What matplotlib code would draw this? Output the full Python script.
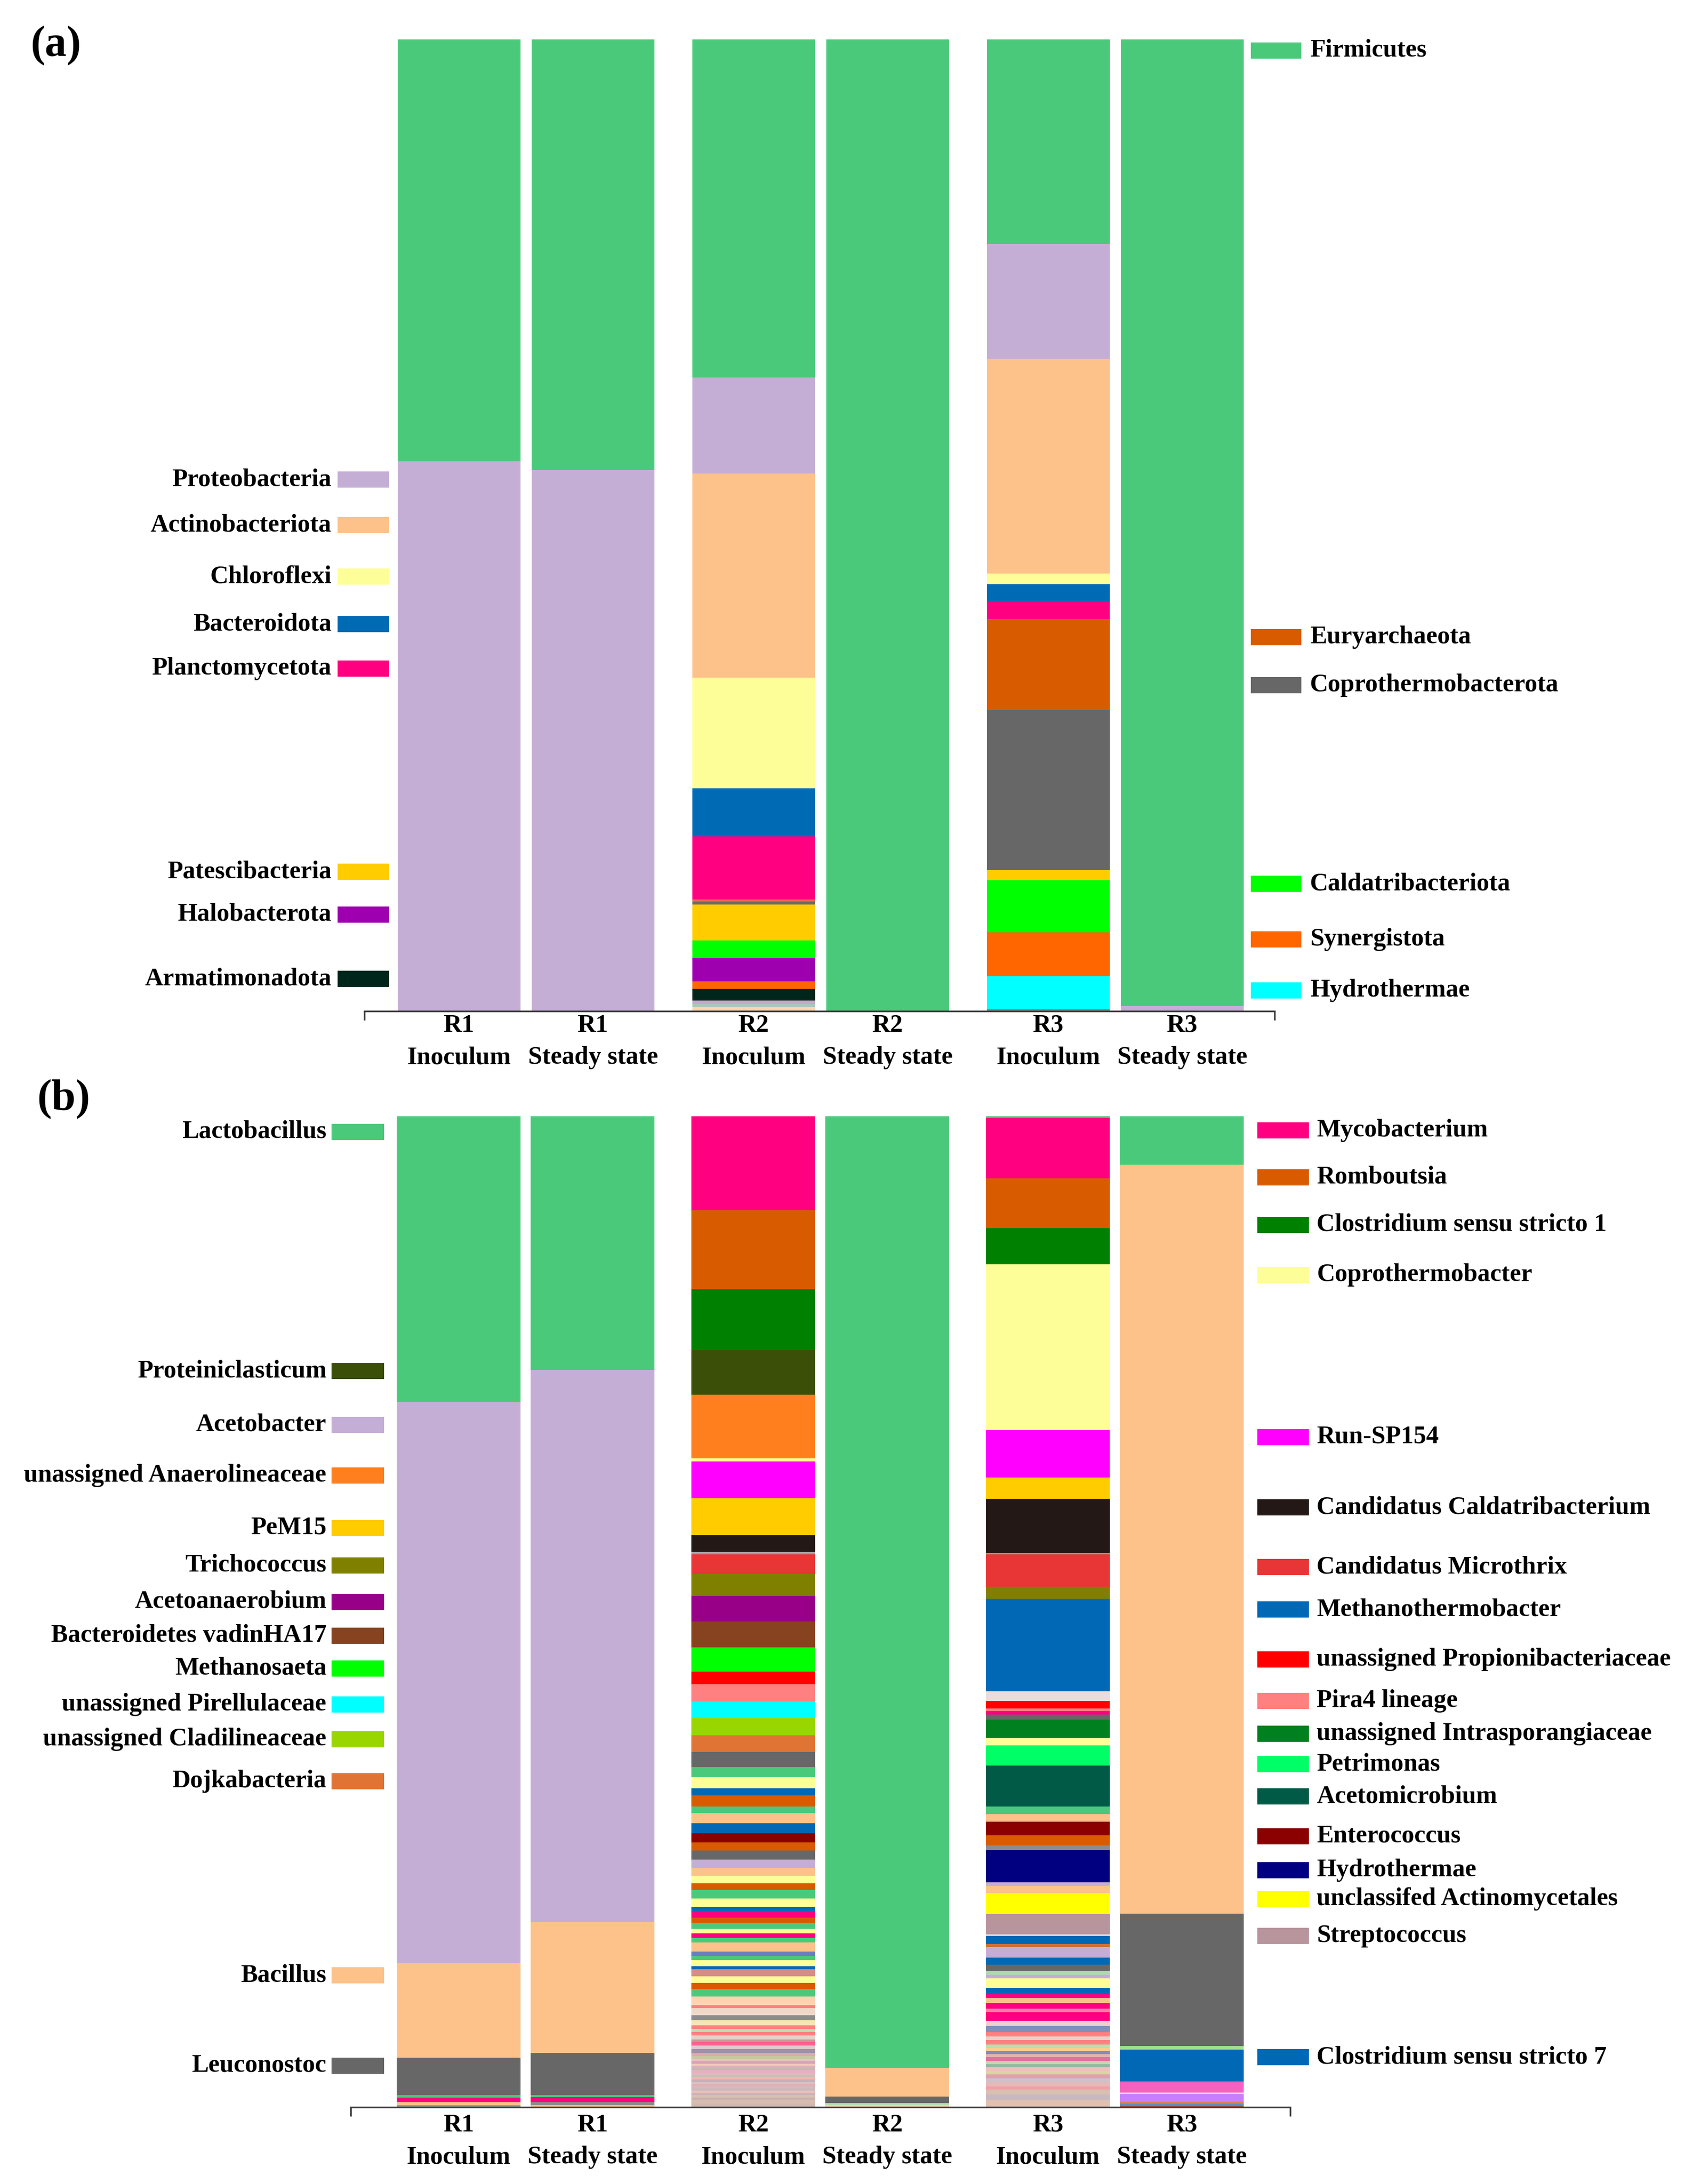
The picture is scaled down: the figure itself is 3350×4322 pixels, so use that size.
import numpy as np
import matplotlib.pyplot as plt
from matplotlib.patches import Rectangle

plt.rcParams['font.family'] = ['Liberation Serif', 'DejaVu Serif']
plt.rcParams['font.weight'] = 'bold'

W, H = 3350, 4322

# ----------------------------
# sample labels
# ----------------------------
samples = ["R1\nInoculum", "R1\nSteady state", "R2\nInoculum",
           "R2\nSteady state", "R3\nInoculum", "R3\nSteady state"]

# ----------------------------
# (a) phylum level, % relative abundance, top -> bottom of each bar
# keys are phyla (coloured from the legend) or plain colours for minor taxa
# ----------------------------
a_r1_inoc = [("Firmicutes", 43.4), ("Proteobacteria", 56.6)]
a_r1_ss = [("Firmicutes", 44.3), ("Proteobacteria", 55.7)]
a_r2_inoc = [("Firmicutes", 34.8), ("Proteobacteria", 9.9), ("Actinobacteriota", 21.0),
             ("Chloroflexi", 11.4), ("Bacteroidota", 4.9), ("Planctomycetota", 6.5),
             ("#E07050", 0.25), ("Coprothermobacterota", 0.3), ("Patescibacteria", 3.7),
             ("Caldatribacteriota", 1.8), ("Halobacterota", 2.4), ("Synergistota", 0.76),
             ("Armatimonadota", 1.2), ("#C8A8C8", 0.35), ("#A8C8B8", 0.35),
             ("#FCD6B0", 0.4)]
a_r2_ss = [("Firmicutes", 100.0)]
a_r3_inoc = [("Firmicutes", 21.1), ("Proteobacteria", 11.8), ("Actinobacteriota", 22.1),
             ("Chloroflexi", 1.1), ("Bacteroidota", 1.8), ("Planctomycetota", 1.8),
             ("Euryarchaeota", 9.4), ("Coprothermobacterota", 16.5),
             ("Patescibacteria", 1.0), ("Caldatribacteriota", 5.4),
             ("Synergistota", 4.5), ("Hydrothermae", 3.4), ("#8C8C8C", 0.2)]
a_r3_ss = [("Firmicutes", 99.5), ("Proteobacteria", 0.5)]

phylum_colors = {
    "Firmicutes": "#4BC97B", "Proteobacteria": "#C5AED5",
    "Actinobacteriota": "#FCC28A", "Chloroflexi": "#FEFE98",
    "Bacteroidota": "#006BB5", "Planctomycetota": "#FF0080",
    "Patescibacteria": "#FFCC00", "Halobacterota": "#9E00B0",
    "Armatimonadota": "#00261C", "Euryarchaeota": "#D95B00",
    "Coprothermobacterota": "#676767", "Caldatribacteriota": "#00FF00",
    "Synergistota": "#FF6600", "Hydrothermae": "#00FFFF",
}

a_left_labels = ["Proteobacteria", "Actinobacteriota", "Chloroflexi", "Bacteroidota",
                 "Planctomycetota", "Patescibacteria", "Halobacterota", "Armatimonadota"]
a_right_labels = ["Firmicutes", "Euryarchaeota", "Coprothermobacterota",
                  "Caldatribacteriota", "Synergistota", "Hydrothermae"]

# ----------------------------
# (b) genus level, relative abundance (read as bar fractions), top -> bottom
# ----------------------------
b_r1_inoc = [("Lactobacillus", 565.5), ("Acetobacter", 1109.5), ("Bacillus", 187),
             ("Leuconostoc", 74), ("#4BC97B", 4.8), ("#FF0080", 9.1),
             ("#FCC28A", 6), ("#8CA08C", 4)]
b_r1_ss = [("Lactobacillus", 502), ("Acetobacter", 1092.5), ("Bacillus", 259),
           ("Leuconostoc", 83), ("#4BC97B", 4), ("#FF0080", 10),
           ("#8C8C8C", 6), ("#FCC28A", 4)]
b_r2_inoc = [("Mycobacterium", 185.6), ("Romboutsia", 155.6),
             ("Clostridium sensu stricto 1", 121.8), ("Proteiniclasticum", 87.4),
             ("unassigned Anaerolineaceae", 125.6), ("Coprothermobacter", 6.4),
             ("Run-SP154", 73.3), ("PeM15", 72.1), ("Candidatus Caldatribacterium", 33.8),
             ("#A0A0A0", 4.5), ("Candidatus Microthrix", 38.9), ("Trichococcus", 42.7),
             ("Acetoanaerobium", 51.6), ("Bacteroidetes vadinHA17", 50.2),
             ("Methanosaeta", 48.9), ("unassigned Propionibacteriaceae", 24.8),
             ("Pira4 lineage", 33.5), ("unassigned Pirellulaceae", 33.5),
             ("unassigned Cladilineaceae", 33.5), ("Dojkabacteria", 33.5),
             ("#676767", 30), ("#4BC97B", 20), ("#FEFE98", 22), ("#0068B5", 13.4),
             ("#D95B00", 22), ("#4BC97B", 12.7), ("#FCC28A", 20.8), ("#0068B5", 20),
             ("#8B0000", 18), ("#D95B00", 15.4), ("#676767", 18), ("#C5AED5", 16.7),
             ("#FCC28A", 15.4), ("#FEFE98", 14.7), ("#D95B00", 13.4), ("#4BC97B", 16.7),
             ("#FEFE98", 16.7), ("#0068B5", 8), ("#FF0080", 13.4), ("#D95B00", 10),
             ("#4BC97B", 12), ("#FEFE98", 8.7), ("#FF0080", 9.4), ("#4BC97B", 8.7),
             ("#FCC28A", 18), ("#6A7FC0", 8.7), ("#4BC97B", 8), ("#FEFE98", 12),
             ("#0068B5", 6.7), ("#D98A8A", 13.4), ("#FEFE98", 13.4), ("#D95B00", 11.4),
             ("#4BC97B", 15.4), ("#FFD3B0", 16.7), ("#FF8080", 6.7), ("#F0D8C8", 13.4),
             ("#8C8C8C", 10), ("#F5E6B4", 10), ("#FF8080", 6.7), ("#B8E0B0", 6.7),
             ("#FF8080", 6.7), ("#E8D0C8", 8), ("#C89898", 5.4), ("#FF6090", 6.7),
             ("#E0C8D0", 6.7), ("#A090A8", 8), ("#E0A8B0", 6), ("#C8C8A0", 6),
             ("#EBC0C0", 4.5), ("#D8A0B8", 4.5), ("#F0C8B8", 4.4), ("#D8B0C0", 4.5),
             ("#C8B8B0", 4.5), ("#E8B0C0", 4.4), ("#E0B8C0", 4.5), ("#C8C0B8", 4.5),
             ("#F0B8B0", 4.4), ("#C8B0B8", 4.5), ("#D8C0C0", 4.5), ("#E0B0B8", 4.4),
             ("#D8B8B8", 4.5), ("#C8B8C0", 4.5), ("#E8C0B8", 4.4), ("#D0B0B8", 4.5),
             ("#D8C0B0", 4.5), ("#C8B0B0", 4.4), ("#D8BCB0", 7.4), ("#D0B8B0", 7.3)]
b_r2_ss = [("Lactobacillus", 1881), ("Bacillus", 57.5), ("Leuconostoc", 12.7),
           ("#B8E0B0", 4), ("#FCD6B0", 4)]
b_r3_inoc = [("#4BC97B", 3), ("Mycobacterium", 119.9), ("Romboutsia", 97.6),
             ("Clostridium sensu stricto 1", 71.4), ("Coprothermobacter", 326.6),
             ("Run-SP154", 94.4), ("PeM15", 41.5), ("Candidatus Caldatribacterium", 106.5),
             ("#4BC97B", 3), ("Candidatus Microthrix", 64.4), ("Trichococcus", 23.6),
             ("Methanothermobacter", 182.8), ("#EADCDC", 18.7),
             ("unassigned Propionibacteriaceae", 14.7), ("Pira4 lineage", 5.4),
             ("#FF0080", 6.7), ("#676767", 10), ("unassigned Intrasporangiaceae", 35.5),
             ("#FEFE98", 14.7), ("Petrimonas", 40.8), ("Acetomicrobium", 80.4),
             ("#4BC97B", 14.7), ("#FCC28A", 14.7), ("Enterococcus", 27.5),
             ("#D95B00", 20), ("#8C8C8C", 9), ("Hydrothermae", 63.6), ("#C5AED5", 6.7),
             ("#FCC28A", 14), ("unclassifed Actinomycetales", 41.5),
             ("Streptococcus", 40.2), ("#E8E0E0", 3.4), ("#0068B5", 15.4),
             ("#C87040", 6.7), ("#C5AED5", 20), ("#0068B5", 14.7), ("#676767", 12),
             ("#B0D8B0", 8), ("#C5AED5", 6.7), ("#FEFE98", 18.7), ("#0068B5", 11.4),
             ("#FF0080", 8.7), ("#FCC28A", 10), ("#FF0080", 11.4), ("#FF80A0", 6.7),
             ("#FF0080", 16.7), ("#F0D0D0", 10), ("#8090B8", 12), ("#FF8080", 9.4),
             ("#E8D0C8", 6.7), ("#FF8080", 8.7), ("#B8E0B0", 6.7), ("#F5D090", 6),
             ("#8090C0", 6), ("#E8B0B0", 6), ("#E070A0", 8), ("#C0D8B0", 6),
             ("#8FB8A0", 6), ("#F0C0C0", 8), ("#D8D8A0", 6), ("#E0A0B0", 8),
             ("#D0C0C8", 8), ("#E8B8B8", 8), ("#F0A0A8", 6), ("#D8C0B0", 10),
             ("#C8B8C0", 10), ("#E0C0B0", 15)]
b_r3_ss = [("Lactobacillus", 96), ("Bacillus", 1482), ("Leuconostoc", 262),
           ("#A0E090", 6.7), ("Clostridium sensu stricto 7", 63), ("#F75FC0", 21.7),
           ("#F8D0E0", 3.3), ("#C57FFF", 16), ("#E08040", 3.3), ("#6090C0", 4),
           ("#B05030", 2.7)]

genus_colors = {
    "Lactobacillus": "#4BC97B", "Proteiniclasticum": "#3B4F08",
    "Acetobacter": "#C5AED5", "unassigned Anaerolineaceae": "#FF7F1E",
    "PeM15": "#FFCC00", "Trichococcus": "#808000", "Acetoanaerobium": "#990088",
    "Bacteroidetes vadinHA17": "#87421F", "Methanosaeta": "#00FF00",
    "unassigned Pirellulaceae": "#00FFFF", "unassigned Cladilineaceae": "#99D600",
    "Dojkabacteria": "#E07434", "Bacillus": "#FCC28A", "Leuconostoc": "#676767",
    "Mycobacterium": "#FF0080", "Romboutsia": "#D95B00",
    "Clostridium sensu stricto 1": "#008000", "Coprothermobacter": "#FEFE98",
    "Run-SP154": "#FF00FF", "Candidatus Caldatribacterium": "#231815",
    "Candidatus Microthrix": "#E83535", "Methanothermobacter": "#0068B5",
    "unassigned Propionibacteriaceae": "#FF0000", "Pira4 lineage": "#FF8080",
    "unassigned Intrasporangiaceae": "#00801F", "Petrimonas": "#00FF66",
    "Acetomicrobium": "#005A46", "Enterococcus": "#8B0000", "Hydrothermae": "#000080",
    "unclassifed Actinomycetales": "#FFFF00", "Streptococcus": "#B8949C",
    "Clostridium sensu stricto 7": "#0068B5",
}

b_left_labels = ["Lactobacillus", "Proteiniclasticum", "Acetobacter",
                 "unassigned Anaerolineaceae", "PeM15", "Trichococcus", "Acetoanaerobium",
                 "Bacteroidetes vadinHA17", "Methanosaeta", "unassigned Pirellulaceae",
                 "unassigned Cladilineaceae", "Dojkabacteria", "Bacillus", "Leuconostoc"]
b_right_labels = ["Mycobacterium", "Romboutsia", "Clostridium sensu stricto 1",
                  "Coprothermobacter", "Run-SP154", "Candidatus Caldatribacterium",
                  "Candidatus Microthrix", "Methanothermobacter",
                  "unassigned Propionibacteriaceae", "Pira4 lineage",
                  "unassigned Intrasporangiaceae", "Petrimonas", "Acetomicrobium",
                  "Enterococcus", "Hydrothermae", "unclassifed Actinomycetales",
                  "Streptococcus", "Clostridium sensu stricto 7"]

# ----------------------------
# layout (pixels of the output image)
# ----------------------------
xpos = np.array([0, 1, 2.2, 3.2, 4.4, 5.4])
a_label_y_left = [949, 1039, 1141, 1235, 1323, 1725, 1810, 1937]
a_label_y_right = [100, 1261, 1356, 1749, 1859, 1960]
b_label_y_left = [2240, 2713, 2820, 2920, 3024, 3098, 3170, 3237, 3302, 3373,
                  3442, 3525, 3909, 4088]
b_label_y_right = [2237, 2330, 2424, 2523, 2844, 2983, 3101, 3185, 3284, 3366,
                   3431, 3491, 3555, 3634, 3701, 3758, 3831, 4071]

FS = 36
AXC = "#3C3C3C"

fig = plt.figure(figsize=(W / 100, H / 100), dpi=100)


def px_axes(left, top, right, bottom):
    return fig.add_axes([left / W, 1 - bottom / H, (right - left) / W, (bottom - top) / H])


def stacked(ax, bars, colors, width, xlim, pad):
    for x, segs in zip(xpos, bars):
        vals = np.array([v for _, v in segs], dtype=float)
        vals = vals / vals.sum() * 100  # 100 % stacked
        tops = 100 - np.concatenate([[0], np.cumsum(vals)[:-1]])
        for (key, _), v, t in zip(segs, vals, tops):
            ax.bar(x, v, bottom=t - v, width=width, color=colors.get(key, key),
                   edgecolor="none", linewidth=0)
    ax.set_xlim(*xlim)
    ax.set_ylim(0, 100)
    for s in ["left", "right", "top"]:
        ax.spines[s].set_visible(False)
    ax.spines["bottom"].set_color(AXC)
    ax.spines["bottom"].set_linewidth(2.4)
    ax.set_yticks([])
    ax.set_xticks(xpos)
    ax.set_xticklabels(samples, fontsize=FS, fontweight="bold", linespacing=1.5)
    ax.tick_params(axis="x", which="major", length=0, pad=pad)
    ax.set_xticks(list(xlim), minor=True)
    ax.tick_params(axis="x", which="minor", length=13, width=2.4, color=AXC,
                   direction="out")


def key(name, color, y, side, sw_left, sw_right, txt_x):
    fig.patches.append(Rectangle((sw_left / W, 1 - (y + 16) / H),
                                 (sw_right - sw_left) / W, 32 / H,
                                 transform=fig.transFigure, color=color, lw=0))
    fig.text(txt_x / W, 1 - y / H, name, ha="right" if side == "left" else "left",
             va="center", fontsize=FS, fontweight="bold")


# ----------------------------
# panel (a)
# ----------------------------
ax_a = px_axes(721, 78, 2522, 2001)
stacked(ax_a, [a_r1_inoc, a_r1_ss, a_r2_inoc, a_r2_ss, a_r3_inoc, a_r3_ss],
        phylum_colors, 0.917, (-0.706, 6.09), 4)
for name, y in zip(a_left_labels, a_label_y_left):
    key(name, phylum_colors[name], y, "left", 668, 770, 656)
for name, y in zip(a_right_labels, a_label_y_right):
    key(name, phylum_colors[name], y, "right", 2475, 2575, 2592)

# ----------------------------
# panel (b)
# ----------------------------
ax_b = px_axes(694, 2209, 2553, 4170)
stacked(ax_b, [b_r1_inoc, b_r1_ss, b_r2_inoc, b_r2_ss, b_r3_inoc, b_r3_ss],
        genus_colors, 0.925, (-0.806, 6.21), 9)
for name, y in zip(b_left_labels, b_label_y_left):
    key(name, genus_colors[name], y, "left", 656, 760, 646)
for name, y in zip(b_right_labels, b_label_y_right):
    key(name, genus_colors[name], y, "right", 2488, 2590, 2605)

fig.text(110 / W, 1 - 90 / H, "(a)", ha="center", va="center", fontsize=62,
         fontweight="bold")
fig.text(126 / W, 1 - 2175 / H, "(b)", ha="center", va="center", fontsize=62,
         fontweight="bold")

fig.savefig("out.png", dpi=100, facecolor="white")
